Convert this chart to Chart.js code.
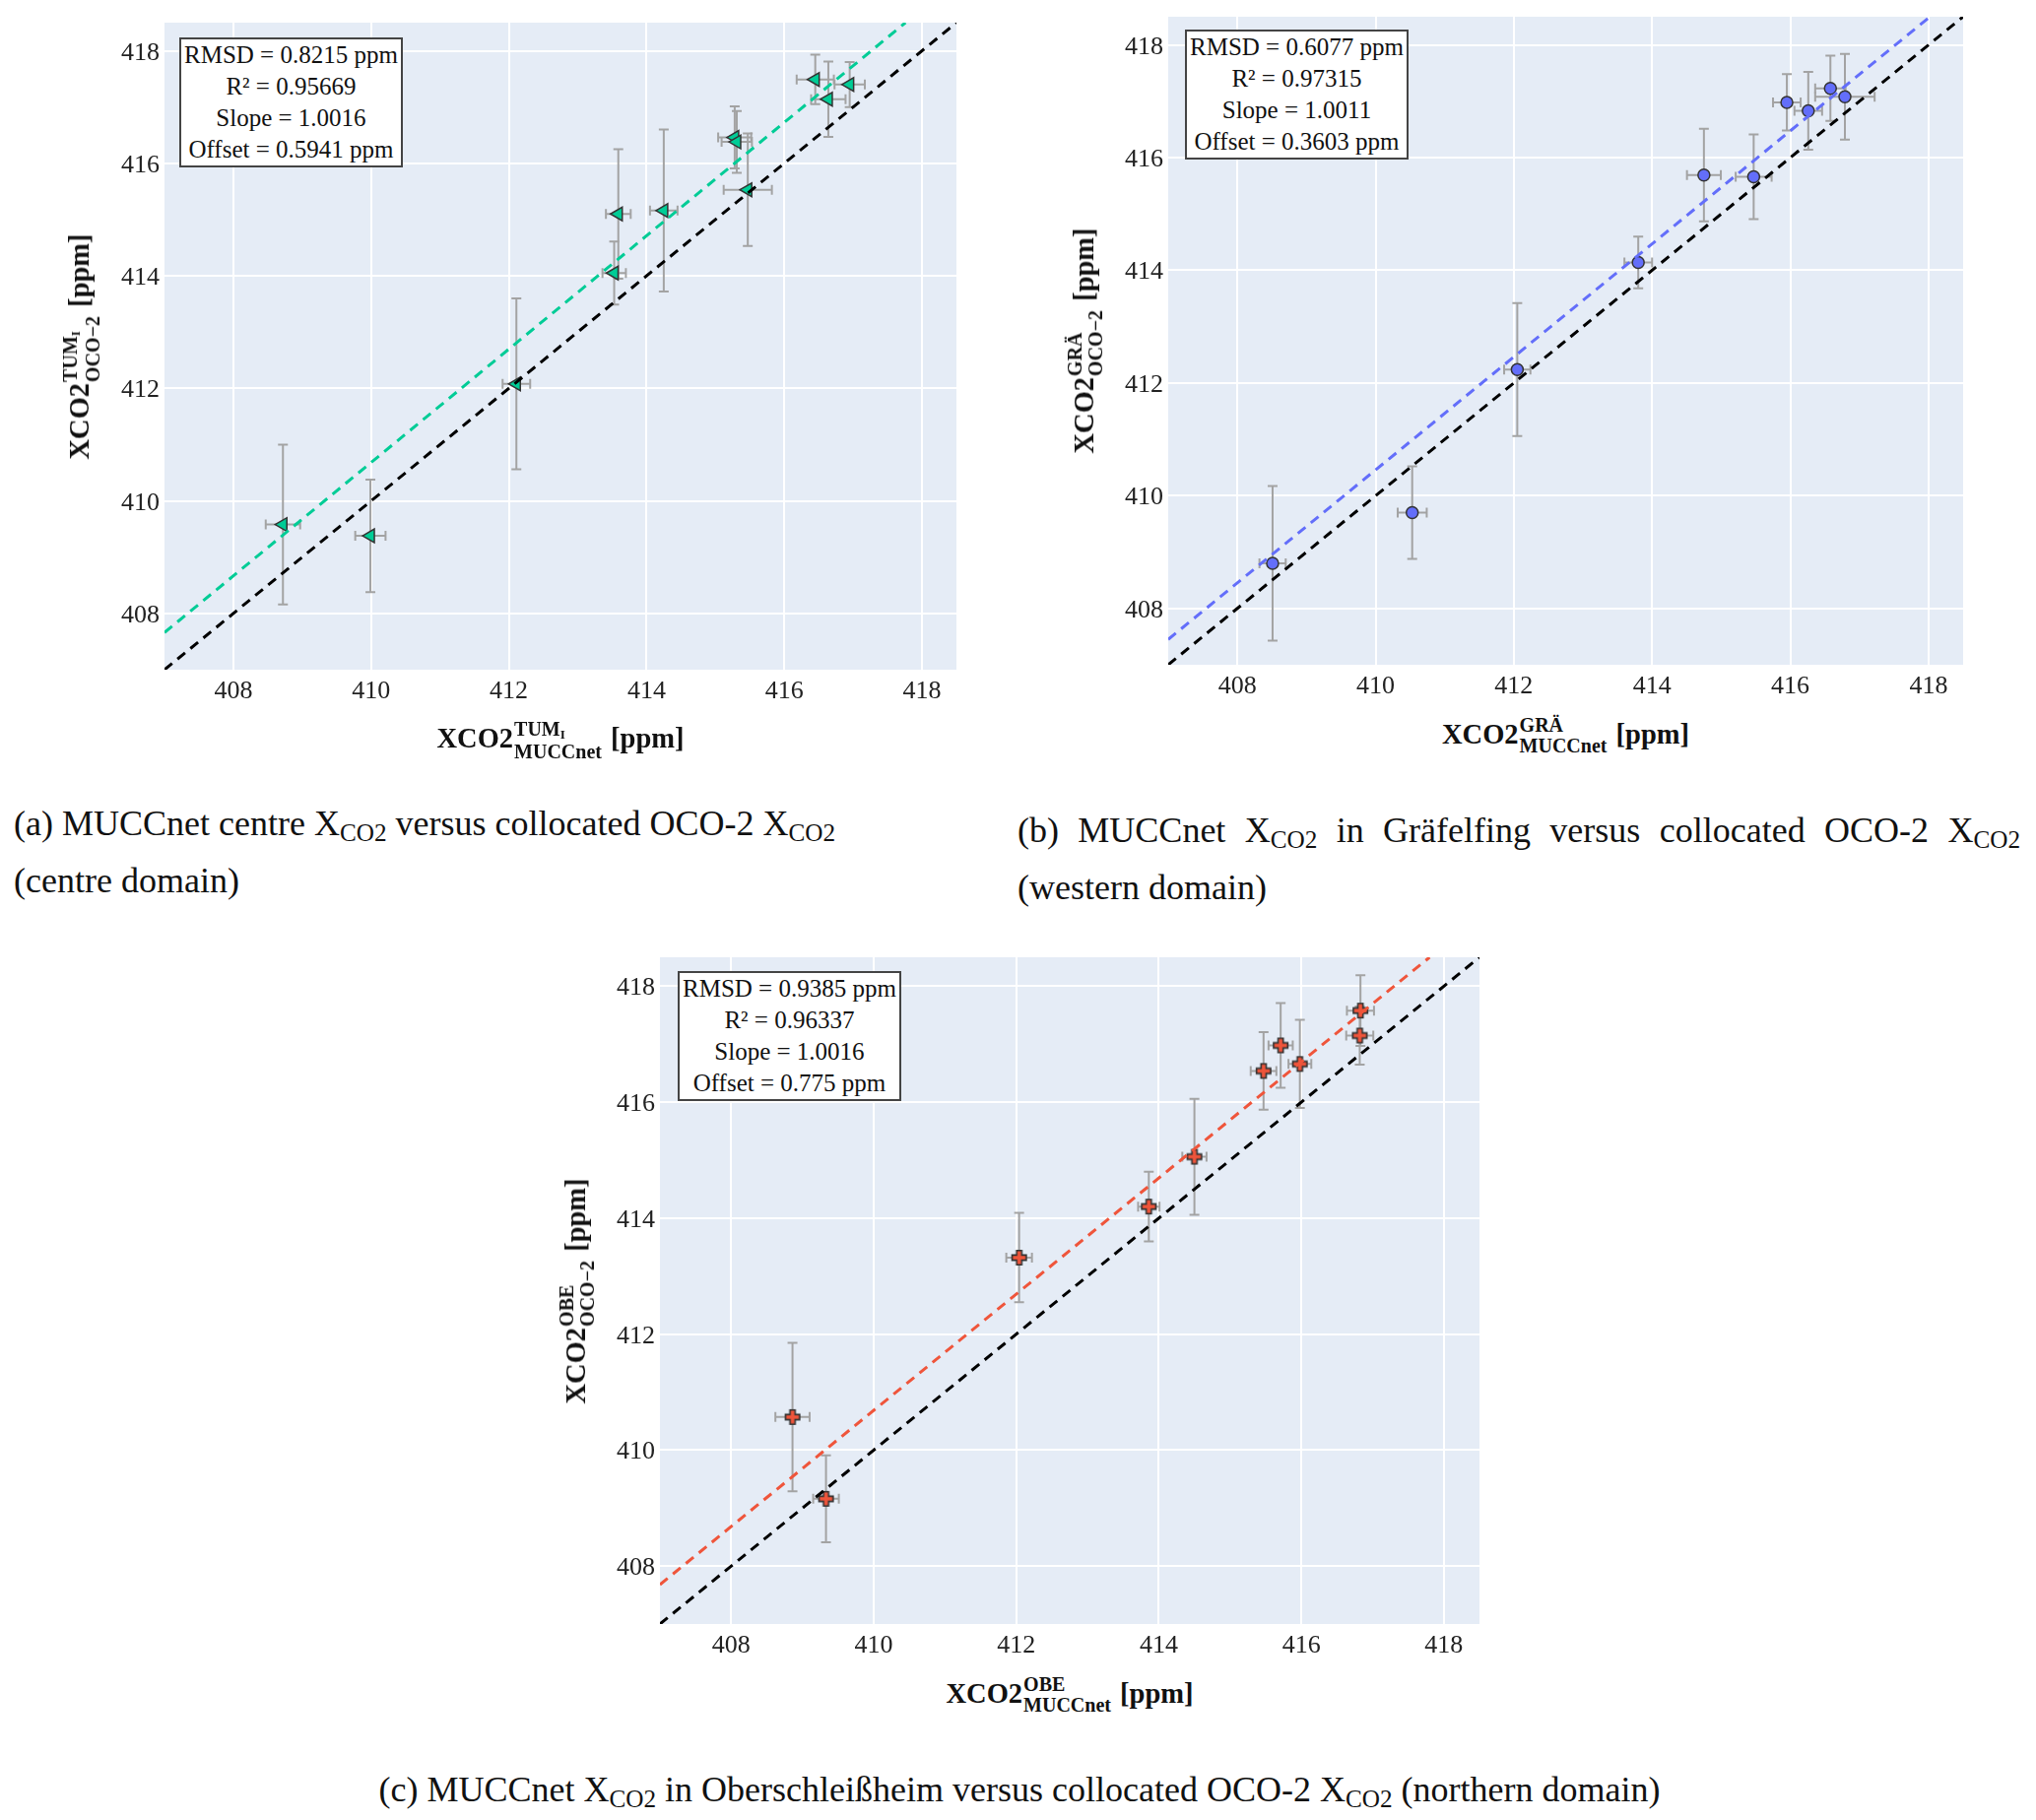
<!DOCTYPE html>
<html>
<head>
<meta charset="utf-8">
<script src="https://cdn.jsdelivr.net/npm/chart.js@4.4.1/dist/chart.umd.min.js"></script>
<style>
  html, body { margin: 0; padding: 0; background: #fff; }
  body { width: 2067px; height: 1848px; position: relative; overflow: hidden;
         font-family: 'Liberation Serif', 'Times New Roman', serif; color: #111; }
  canvas { position: absolute; }
  .tick { position: absolute; font-size: 26px; line-height: 1; color: #222; white-space: nowrap; }
  .tick.tx { transform: translate(-50%, -50%); }
  .tick.ty { transform: translate(-100%, -50%); }
  .stats { position: absolute; background: #fff; border: 2px solid #444; font-size: 25px;
           line-height: 32px; text-align: center; padding: 0 3px; white-space: nowrap; }
  .ttl { position: absolute; font-weight: bold; font-size: 28.5px; white-space: nowrap; line-height: 1; }
  .ttl.rot { transform: translate(-50%, -50%) rotate(-90deg); }
  .ttl.hor { transform: translate(-50%, -50%); }
  .stk { display: inline-flex; flex-direction: column; align-items: flex-start; font-size: 20px;
         line-height: 21px; position: relative; top: -12px; margin: 0 2px 0 1px; }
  .stk small { font-size: 13px; position: relative; top: 3px; }
  .cap { position: absolute; font-size: 36px; line-height: 58px; white-space: nowrap; }
  .cap sub { font-size: 0.7em; vertical-align: -0.22em; line-height: 0; }
  .just { text-align: justify; text-align-last: justify; }
</style>
</head>
<body>
<script>
// axis ticks shared by all three panels
const axisTicks = [408, 410, 412, 414, 416, 418];
const axisMin = 407;
const axisMax = 418.5;

// (a) centre domain, TUM_I
const tumX    = [408.72, 409.99, 412.11, 413.53, 413.59, 414.25, 415.28, 415.31, 415.47, 416.45, 416.64, 416.95];
const tumY    = [409.58, 409.38, 412.08, 414.05, 415.10, 415.16, 416.46, 416.38, 415.53, 417.49, 417.14, 417.40];
const tumXErr = [0.25, 0.22, 0.20, 0.17, 0.18, 0.20, 0.24, 0.22, 0.35, 0.27, 0.25, 0.22];
const tumYErr = [1.42, 1.00, 1.52, 0.56, 1.15, 1.44, 0.55, 0.55, 1.00, 0.44, 0.67, 0.40];
const tumFitX = [407, 417.76];
const tumFitY = [407.66, 418.5];
const tumStats = ['RMSD = 0.8215 ppm', 'R² = 0.95669', 'Slope = 1.0016', 'Offset = 0.5941 ppm'];

// (b) western domain, GRÄ
const graX    = [408.51, 410.53, 412.05, 413.80, 414.75, 415.47, 415.95, 416.26, 416.58, 416.79];
const graY    = [408.80, 409.70, 412.24, 414.14, 415.69, 415.66, 416.98, 416.83, 417.23, 417.08];
const graXErr = [0.19, 0.21, 0.19, 0.20, 0.245, 0.26, 0.20, 0.20, 0.22, 0.43];
const graYErr = [1.37, 0.82, 1.18, 0.46, 0.82, 0.75, 0.50, 0.69, 0.58, 0.76];
const graFitX = [407, 418.02];
const graFitY = [407.45, 418.5];
const graStats = ['RMSD = 0.6077 ppm', 'R² = 0.97315', 'Slope = 1.0011', 'Offset = 0.3603 ppm'];

// (c) northern domain, OBE
const obeX    = [408.86, 409.33, 412.04, 413.86, 414.50, 415.47, 415.71, 415.98, 416.83, 416.82];
const obeY    = [410.57, 409.16, 413.32, 414.20, 415.06, 416.54, 416.98, 416.66, 417.58, 417.15];
const obeXErr = [0.24, 0.18, 0.18, 0.15, 0.17, 0.18, 0.17, 0.16, 0.19, 0.19];
const obeYErr = [1.28, 0.75, 0.77, 0.60, 1.00, 0.67, 0.73, 0.76, 0.61, 0.50];
const obeFitX = [407, 417.8];
const obeFitY = [407.68, 418.5];
const obeStats = ['RMSD = 0.9385 ppm', 'R² = 0.96337', 'Slope = 1.0016', 'Offset = 0.775 ppm'];

// 1:1 reference line
const oneToOne = [axisMin, axisMax];

const plotBg = {
  id: 'plotBg',
  beforeDraw(chart) {
    const { ctx, chartArea: a } = chart;
    ctx.save();
    ctx.fillStyle = '#E5ECF6';
    ctx.fillRect(a.left, a.top, a.width, a.height);
    ctx.restore();
  }
};

// plotly style error bars, drawn under the markers
const errorBars = {
  id: 'errorBars',
  beforeDatasetDraw(chart, args) {
    const ds = chart.data.datasets[args.index];
    if (!ds.errX) return;
    const { x, y } = chart.scales;
    const ctx = chart.ctx;
    const cap = 5;
    ctx.save();
    ctx.strokeStyle = '#a3a3a3';
    ctx.lineWidth = 2;
    ds.data.forEach((p, i) => {
      const px = x.getPixelForValue(p.x), py = y.getPixelForValue(p.y);
      const x0 = x.getPixelForValue(p.x - ds.errX[i]), x1 = x.getPixelForValue(p.x + ds.errX[i]);
      const y0 = y.getPixelForValue(p.y - ds.errY[i]), y1 = y.getPixelForValue(p.y + ds.errY[i]);
      ctx.beginPath();
      ctx.moveTo(px, y0); ctx.lineTo(px, y1);
      ctx.moveTo(px - cap, y0); ctx.lineTo(px + cap, y0);
      ctx.moveTo(px - cap, y1); ctx.lineTo(px + cap, y1);
      ctx.moveTo(x0, py); ctx.lineTo(x1, py);
      ctx.moveTo(x0, py - cap); ctx.lineTo(x0, py + cap);
      ctx.moveTo(x1, py - cap); ctx.lineTo(x1, py + cap);
      ctx.stroke();
    });
    ctx.restore();
  }
};

// tick labels as page text (serif), placed from the chart's own scales
const htmlTicks = {
  id: 'htmlTicks',
  afterRender(chart) {
    if (chart.$ticksDone) return;
    chart.$ticksDone = true;
    const ox = parseFloat(chart.canvas.style.left), oy = parseFloat(chart.canvas.style.top);
    const { x, y } = chart.scales;
    const a = chart.chartArea;
    x.ticks.forEach(t => {
      addHTML(`<div class="tick tx" style="left:${ox + x.getPixelForValue(t.value)}px;top:${oy + a.bottom + 21}px">${t.value}</div>`);
    });
    y.ticks.forEach(t => {
      addHTML(`<div class="tick ty" style="left:${ox + a.left - 5}px;top:${oy + y.getPixelForValue(t.value) + 1}px">${t.value}</div>`);
    });
  }
};

// filled plus marker like plotly's "cross" symbol
function crossMarker(fill) {
  const s = 18, c = document.createElement('canvas');
  c.width = c.height = s;
  const g = c.getContext('2d');
  const m = s / 2, t = 2.6, h = 7.2;
  g.beginPath();
  g.moveTo(m - t, m - h); g.lineTo(m + t, m - h); g.lineTo(m + t, m - t);
  g.lineTo(m + h, m - t); g.lineTo(m + h, m + t); g.lineTo(m + t, m + t);
  g.lineTo(m + t, m + h); g.lineTo(m - t, m + h); g.lineTo(m - t, m + t);
  g.lineTo(m - h, m + t); g.lineTo(m - h, m - t); g.lineTo(m - t, m - t);
  g.closePath();
  g.fillStyle = fill;
  g.fill();
  g.lineWidth = 1.6;
  g.strokeStyle = '#333';
  g.stroke();
  return c;
}

const pairs = (xs, ys) => xs.map((v, i) => ({ x: v, y: ys[i] }));

function axis(isX) {
  return {
    type: 'linear',
    min: axisMin,
    max: axisMax,
    afterBuildTicks: s => { s.ticks = axisTicks.map(v => ({ value: v })); },
    afterFit: s => { if (isX) s.height = 50; else s.width = 90; },
    grid: { color: '#ffffff', lineWidth: 2, drawTicks: false },
    border: { display: false },
    ticks: { display: false }
  };
}

function addHTML(html) {
  const d = document.createElement('div');
  d.innerHTML = html;
  while (d.firstChild) document.body.appendChild(d.firstChild);
}

function panel(p) {
  const W = p.R - p.L, H = p.B - p.T;
  const cv = document.createElement('canvas');
  cv.width = W + 90 + 24;
  cv.height = H + 12 + 50;
  cv.style.left = (p.L - 90) + 'px';
  cv.style.top = (p.T - 12) + 'px';
  document.body.appendChild(cv);

  new Chart(cv, {
    type: 'scatter',
    data: {
      datasets: [
        {
          data: pairs(oneToOne, oneToOne), showLine: true, borderColor: '#000',
          borderWidth: 3, borderDash: [10, 7], pointRadius: 0, order: 0
        },
        {
          data: pairs(p.fitX, p.fitY), showLine: true, borderColor: p.color,
          borderWidth: 3, borderDash: [10, 7], pointRadius: 0, order: 1
        },
        {
          data: pairs(p.xs, p.ys), errX: p.xErr, errY: p.yErr,
          pointStyle: p.marker, rotation: p.rotation || 0, pointRadius: p.radius,
          backgroundColor: p.color, borderColor: '#333', borderWidth: 1.5, order: 2
        }
      ]
    },
    options: {
      responsive: false,
      animation: false,
      devicePixelRatio: 1,
      events: [],
      layout: { padding: { left: 0, top: 12, right: 24, bottom: 0 } },
      plugins: { legend: { display: false }, tooltip: { enabled: false } },
      scales: { x: axis(true), y: axis(false) }
    },
    plugins: [plotBg, errorBars, htmlTicks]
  });

  addHTML(`<div class="stats" style="left:${p.L + p.box[0]}px;top:${p.T + p.box[1]}px">${p.stats.join('<br>')}</div>`);
  const tag = p.tag;
  addHTML(`<div class="ttl hor" style="left:${(p.L + p.R) / 2}px;top:${p.B + 81}px">XCO2<span class="stk"><span>${tag}</span><span>MUCCnet</span></span> [ppm]</div>`);
  addHTML(`<div class="ttl rot" style="left:${p.L - 75}px;top:${(p.T + p.B) / 2}px">XCO2<span class="stk"><span>${tag}</span><span>OCO−2</span></span> [ppm]</div>`);
}

panel({ L: 167, T: 23, R: 971, B: 680, xs: tumX, ys: tumY, xErr: tumXErr, yErr: tumYErr,
        fitX: tumFitX, fitY: tumFitY, stats: tumStats, color: '#00CC96',
        marker: 'triangle', rotation: -90, radius: 8, box: [15, 15], tag: 'TUM<small>I</small>' });
panel({ L: 1186, T: 17, R: 1993, B: 675, xs: graX, ys: graY, xErr: graXErr, yErr: graYErr,
        fitX: graFitX, fitY: graFitY, stats: graStats, color: '#636EFA',
        marker: 'circle', radius: 6, box: [17, 13], tag: 'GRÄ' });
panel({ L: 670, T: 972, R: 1502, B: 1649, xs: obeX, ys: obeY, xErr: obeXErr, yErr: obeYErr,
        fitX: obeFitX, fitY: obeFitY, stats: obeStats, color: '#EF553B',
        marker: crossMarker('#EF553B'), radius: 9, box: [18, 14], tag: 'OBE' });

addHTML(`<div class="cap" style="left:14px;top:807px">(a) MUCCnet centre X<sub>CO2</sub> versus collocated OCO-2 X<sub>CO2</sub><br>(centre domain)</div>`);
addHTML(`<div class="cap" style="left:1033px;top:814px;width:1018px"><div class="just">(b) MUCCnet X<sub>CO2</sub> in Gräfelfing versus collocated OCO-2 X<sub>CO2</sub></div><div>(western domain)</div></div>`);
addHTML(`<div class="cap" style="left:1035px;top:1788px;transform:translateX(-50%)">(c) MUCCnet X<sub>CO2</sub> in Oberschleißheim versus collocated OCO-2 X<sub>CO2</sub> (northern domain)</div>`);
</script>
</body>
</html>
